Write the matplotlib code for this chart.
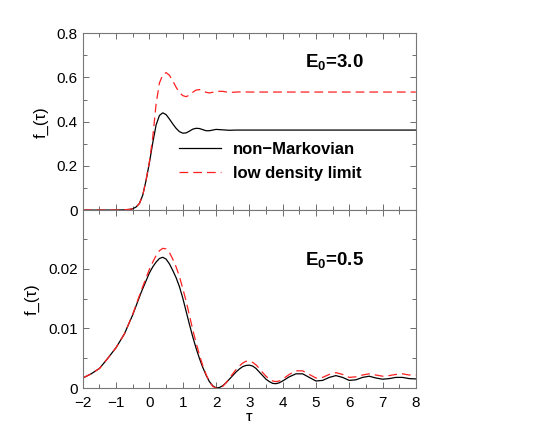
import numpy as np
import matplotlib
matplotlib.use('Agg')
import matplotlib.pyplot as plt
from matplotlib.ticker import MultipleLocator, FuncFormatter

plt.rcParams['font.family'] = ['Liberation Sans', 'DejaVu Sans']
plt.rcParams['mathtext.fontset'] = 'custom'
plt.rcParams['mathtext.rm'] = 'Liberation Sans'
plt.rcParams['mathtext.bf'] = 'Liberation Sans:bold'
plt.rcParams['mathtext.default'] = 'bf'

# upper panel, E0 = 3.0
tau_top = [-2.0, -1.5, -1.0, -0.8, -0.6, -0.5, -0.4, -0.3, -0.2, -0.1, 0.0, 0.1, 0.2,
           0.3, 0.4, 0.5, 0.6, 0.7, 0.8, 0.9, 1.0, 1.1, 1.2, 1.3, 1.4, 1.5, 1.6, 1.7,
           1.8, 1.9, 2.0, 2.2, 2.4, 2.6, 2.8, 3.0, 4.0, 5.0, 6.0, 7.0, 8.0]
nonmark_top = [0.0, 0.0, 0.0003, 0.001, 0.003, 0.006, 0.014, 0.03, 0.068, 0.135, 0.215,
               0.305, 0.385, 0.428, 0.44, 0.432, 0.412, 0.39, 0.37, 0.355, 0.348, 0.349,
               0.357, 0.366, 0.370, 0.369, 0.364, 0.359, 0.359, 0.362, 0.365, 0.363,
               0.361, 0.362, 0.362, 0.362, 0.362, 0.362, 0.362, 0.362, 0.362]
lowdens_top = [0.0, 0.0, 0.0003, 0.001, 0.003, 0.006, 0.014, 0.03, 0.068, 0.137, 0.22,
               0.33, 0.48, 0.575, 0.612, 0.622, 0.61, 0.585, 0.556, 0.532, 0.518, 0.513,
               0.52, 0.533, 0.543, 0.545, 0.54, 0.533, 0.53, 0.533, 0.538, 0.537, 0.532,
               0.534, 0.535, 0.534, 0.534, 0.534, 0.534, 0.534, 0.534]

# lower panel, E0 = 0.5
tau_bot = [-2.0, -1.75, -1.5, -1.25, -1.0, -0.75, -0.5, -0.25,
           0.0, 0.1, 0.2, 0.3, 0.4, 0.5, 0.6, 0.7, 0.8, 0.9,
           1.0, 1.1, 1.2, 1.3, 1.4, 1.5, 1.6, 1.7, 1.8, 1.9,
           2.0, 2.1, 2.2, 2.3, 2.4, 2.5, 2.6, 2.7, 2.8, 2.9,
           3.0, 3.1, 3.2, 3.3, 3.4, 3.5, 3.6, 3.7, 3.8, 3.9,
           4.0, 4.2, 4.4, 4.6, 4.8, 5.0, 5.2, 5.4, 5.6, 5.8,
           6.0, 6.2, 6.4, 6.6, 6.8, 7.0, 7.2, 7.4, 7.6, 7.8, 8.0]
nonmark_bot = [0.0017, 0.0024, 0.0033, 0.0050, 0.0068, 0.0091, 0.0123, 0.0160,
               0.0193, 0.0203, 0.0211, 0.0217, 0.0219, 0.0216, 0.0208, 0.0197, 0.0185, 0.0170,
               0.0151, 0.0129, 0.0107, 0.0086, 0.0067, 0.0050, 0.0035, 0.0022, 0.0011, 0.0004,
               0.00005, 0.0001, 0.0004, 0.0009, 0.0015, 0.0021, 0.0027, 0.0032, 0.0036, 0.0038,
               0.00385, 0.0037, 0.0033, 0.0027, 0.0021, 0.0015, 0.0011, 0.0008, 0.00075, 0.0009,
               0.0012, 0.0019, 0.0024, 0.0024, 0.0018, 0.0012, 0.0013, 0.0018, 0.0021, 0.0018,
               0.0013, 0.0014, 0.0018, 0.0020, 0.0017, 0.0015, 0.0016, 0.0018, 0.0018, 0.0016, 0.00155]
lowdens_bot = [0.0017, 0.0024, 0.0033, 0.0050, 0.0068, 0.0091, 0.0124, 0.0163,
               0.0199, 0.0211, 0.0222, 0.0230, 0.0234, 0.0233, 0.0227, 0.0216, 0.0203, 0.0187,
               0.0167, 0.0146, 0.0122, 0.0098, 0.0076, 0.0056, 0.0038, 0.0023, 0.0011, 0.0003,
               0.0, 0.0, 0.0003, 0.0009, 0.0016, 0.0024, 0.0031, 0.0037, 0.0042, 0.0045,
               0.0045, 0.0043, 0.0039, 0.0033, 0.0026, 0.0020, 0.0015, 0.0012, 0.0011, 0.0012,
               0.0015, 0.0023, 0.0029, 0.0029, 0.0023, 0.0017, 0.0018, 0.0023, 0.0026, 0.0023,
               0.0018, 0.0019, 0.0022, 0.0024, 0.0022, 0.0020, 0.0021, 0.0023, 0.0024, 0.0022, 0.0022]

labels = ['non\u2212Markovian', 'low density limit']


def fmt(v, pos):
    if abs(v) < 1e-12:
        return '0'
    s = ('%g' % v).replace('-', '\u2212')
    return s


fig = plt.figure(figsize=(5.45, 4.21), dpi=100)
ax1 = fig.add_axes([0.152, 0.501, 0.611, 0.420])
ax2 = fig.add_axes([0.152, 0.078, 0.611, 0.423])

for ax in (ax1, ax2):
    ax.set_xlim(-2, 8)
    ax.xaxis.set_major_locator(MultipleLocator(1))
    ax.xaxis.set_minor_locator(MultipleLocator(0.5))
    ax.tick_params(which='both', direction='in', top=True, right=True,
                   labelsize=11, color='#555555')
    ax.tick_params(which='major', length=4, width=0.6)
    ax.tick_params(which='minor', length=3, width=0.6)
    ax.tick_params(axis='x', pad=6)
    for sp in ax.spines.values():
        sp.set_linewidth(0.8)
        sp.set_color('#777777')
    ax.yaxis.set_major_formatter(FuncFormatter(fmt))
    ax.xaxis.set_major_formatter(FuncFormatter(fmt))

ax1.plot(tau_top, nonmark_top, color='black', lw=0.9, label=labels[0])
ax1.plot(tau_top, lowdens_top, color='#ff2020', lw=0.9, dashes=(7, 4), label=labels[1])
ax1.set_ylim(0, 0.8)
ax1.yaxis.set_major_locator(MultipleLocator(0.2))
ax1.yaxis.set_minor_locator(MultipleLocator(0.1))
ax1.tick_params(labelbottom=False)
ax1.set_ylabel('f_(\u03c4)', fontsize=12, labelpad=6)
ax1.text(0.755, 0.84, 'E$_0$=3.0', transform=ax1.transAxes, fontsize=13.5,
         fontweight='bold', ha='center', va='center')
ax1.legend(loc='center left', bbox_to_anchor=(0.245, 0.274), frameon=False,
           prop={'weight': 'bold', 'size': 12}, handlelength=2.5,
           handletextpad=0.7, labelspacing=0.55)

ax2.plot(tau_bot, nonmark_bot, color='black', lw=0.9)
ax2.plot(tau_bot, lowdens_bot, color='#ff2020', lw=0.9, dashes=(7, 4))
ax2.set_ylim(0, 0.0298)
ax2.set_yticks([0, 0.01, 0.02])
ax2.yaxis.set_minor_locator(MultipleLocator(0.005))
ax2.set_ylabel('f_(\u03c4)', fontsize=12, labelpad=6)
ax2.set_xlabel('\u03c4', fontsize=12, labelpad=0)
ax2.text(0.755, 0.72, 'E$_0$=0.5', transform=ax2.transAxes, fontsize=13.5,
         fontweight='bold', ha='center', va='center')

fig.savefig('out.png', dpi=100)
